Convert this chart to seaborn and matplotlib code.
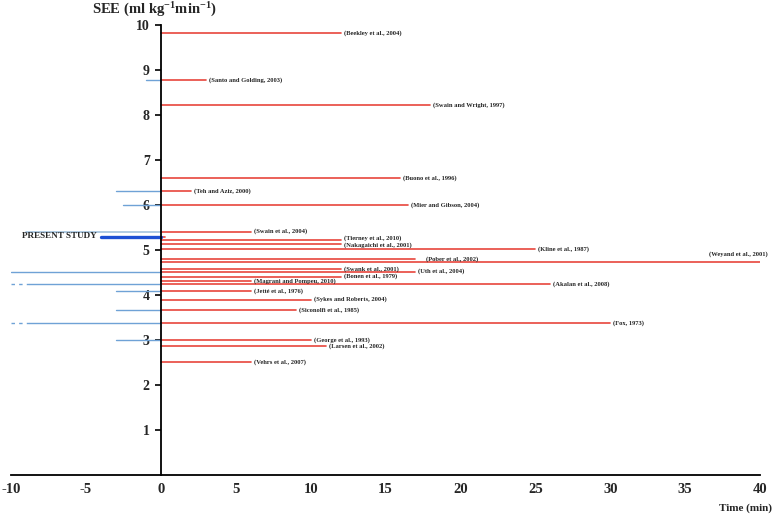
import numpy as np
import pandas as pd
import matplotlib
matplotlib.use("Agg")
import matplotlib.pyplot as plt
import seaborn as sns

# ---- data ----
studies = ["Beekley et al., 2004", "Santo and Golding, 2003", "Swain and Wright, 1997",
           "Buono et al., 1996", "Teh and Aziz, 2000", "Mier and Gibson, 2004",
           "Swain et al., 2004", "PRESENT STUDY", "Tierney et al., 2010",
           "Nakagaichi et al., 2001", "Kline et al., 1987", "Pober et al., 2002",
           "Weyand et al., 2001", "Swank et al., 2001", "Uth et al., 2004",
           "Bonen et al., 1979", "Magrani and Pompeu, 2010", "Akalan et al., 2008",
           "Jetté et al., 1976", "Sykes and Roberts, 2004", "Siconolfi et al., 1985",
           "Fox, 1973", "George et al., 1993", "Larsen et al., 2002", "Vehrs et al., 2007"]
see = [9.82, 8.78, 8.22, 6.59, 6.31, 5.99, 5.41, 5.30, 5.22, 5.14, 5.02, 4.79, 4.73,
       4.57, 4.52, 4.41, 4.31, 4.24, 4.09, 3.90, 3.66, 3.38, 3.00, 2.87, 2.51]
test_time = [12, 3, 18, 16, 2, 16.5, 6, 0.3, 12, 12, 25, 17, 40,
             12, 17, 12, 6, 26, 6, 10, 9, 30, 10, 11, 6]
prior_time = [0, -1, 0, 0, -3, -2.5, -9, -4, 0, 0, 0, 0, 0,
              0, -10, 0, 0, -10, -3, 0, -3, -10, -3, 0, 0]
broken_prior = [False] * 17 + [True] + [False] * 3 + [True] + [False] * 3

x_ticks = [-10, -5, 0, 5, 10, 15, 20, 25, 30, 35, 40]
y_ticks = [1, 2, 3, 4, 5, 6, 7, 8, 9, 10]

# ---- long-form segment table ----
rows = []
for i, (s, y, t, p, b) in enumerate(zip(studies, see, test_time, prior_time, broken_prior)):
    rows.append(dict(seg=f"t{i}", x=0, y=y, kind="test"))
    rows.append(dict(seg=f"t{i}", x=t, y=y, kind="test"))
    if p < 0:
        if s == "PRESENT STUDY":
            kind = "present"
        elif s == "Swain et al., 2004":
            kind = "prior_light"
        else:
            kind = "prior"
        start = p
        if b:
            rows.append(dict(seg=f"b{i}", x=p, y=y, kind="break"))
            rows.append(dict(seg=f"b{i}", x=p + 1.2, y=y, kind="break"))
            start = p + 1.2
        rows.append(dict(seg=f"p{i}", x=start, y=y, kind=kind))
        rows.append(dict(seg=f"p{i}", x=0, y=y, kind=kind))
df = pd.DataFrame(rows)

sns.set_theme(style="white")
plt.rcParams["font.family"] = ["Liberation Serif", "DejaVu Serif"]
plt.rcParams["axes.unicode_minus"] = False
plt.rcParams["mathtext.fontset"] = "custom"
plt.rcParams["mathtext.rm"] = "Liberation Serif:bold"
plt.rcParams["mathtext.it"] = "Liberation Serif:bold"
plt.rcParams["mathtext.bf"] = "Liberation Serif:bold"

fig = plt.figure(figsize=(7.73, 5.17), dpi=100)
ax = fig.add_axes([11 / 773, 1 - 475 / 517, 749 / 773, 450 / 517])

palette = {"test": "#e8453c", "prior": "#6fa2d6", "prior_light": "#a9c7e0",
           "present": "#1c4fd4", "break": "#6fa2d6"}
sizes = {"test": 1.2, "prior": 1.0, "prior_light": 1.3, "present": 2.4, "break": 1.0}
dashes = {"test": "", "prior": "", "prior_light": "", "present": "", "break": (2.5, 3)}
sns.lineplot(data=df, x="x", y="y", hue="kind", size="kind", style="kind",
             units="seg", estimator=None, palette=palette, sizes=sizes,
             dashes=dashes, legend=False, ax=ax, sort=False)

ax.set_xlim(-10, 40)
ax.set_ylim(0, 10)
ax.spines["left"].set_position(("data", 0))
ax.spines["right"].set_visible(False)
ax.spines["top"].set_visible(False)
for sp in ("left", "bottom"):
    ax.spines[sp].set_color("black")
    ax.spines[sp].set_linewidth(1.3)
    ax.spines[sp].set_zorder(5)

ax.set_xticks(x_ticks)
ax.set_yticks(y_ticks)
ax.tick_params(axis="x", direction="in", length=4, width=1.2, color="black",
               labelsize=10.5, pad=6)
ax.tick_params(axis="y", direction="out", length=4, width=1.2, color="black",
               labelsize=10, pad=4, left=True)
for lab in ax.get_xticklabels() + ax.get_yticklabels():
    lab.set_fontweight("bold")
ax.set_xlabel("")
ax.set_ylabel("")

# study labels
offsets = {"Tierney et al., 2010": 0.04, "Nakagaichi et al., 2001": -0.03}
for s, y, t in zip(studies, see, test_time):
    if s == "PRESENT STUDY":
        ax.text(-4.3, y, s, ha="right", va="center", fontsize=6.6, fontweight="bold")
        continue
    if s == "Weyand et al., 2001":
        ax.text(t + 0.5, y + 0.17, f"({s})", ha="right", va="center",
                fontsize=4.7, fontweight="bold", clip_on=False)
        continue
    gap = 0.7 if s == "Pober et al., 2002" else 0.2
    ax.text(t + gap, y + offsets.get(s, 0), f"({s})", ha="left", va="center",
            fontsize=4.7, fontweight="bold")

fig.text(92 / 773, 1 - 10 / 517, r"SEE (ml kg$^{-1}$min$^{-1}$)", ha="left",
         va="center", fontsize=10.5, fontweight="bold")
fig.text(772 / 773, 1 - 508 / 517, "Time (min)", ha="right", va="center",
         fontsize=8, fontweight="bold")

fig.savefig("out.png", dpi=100)
